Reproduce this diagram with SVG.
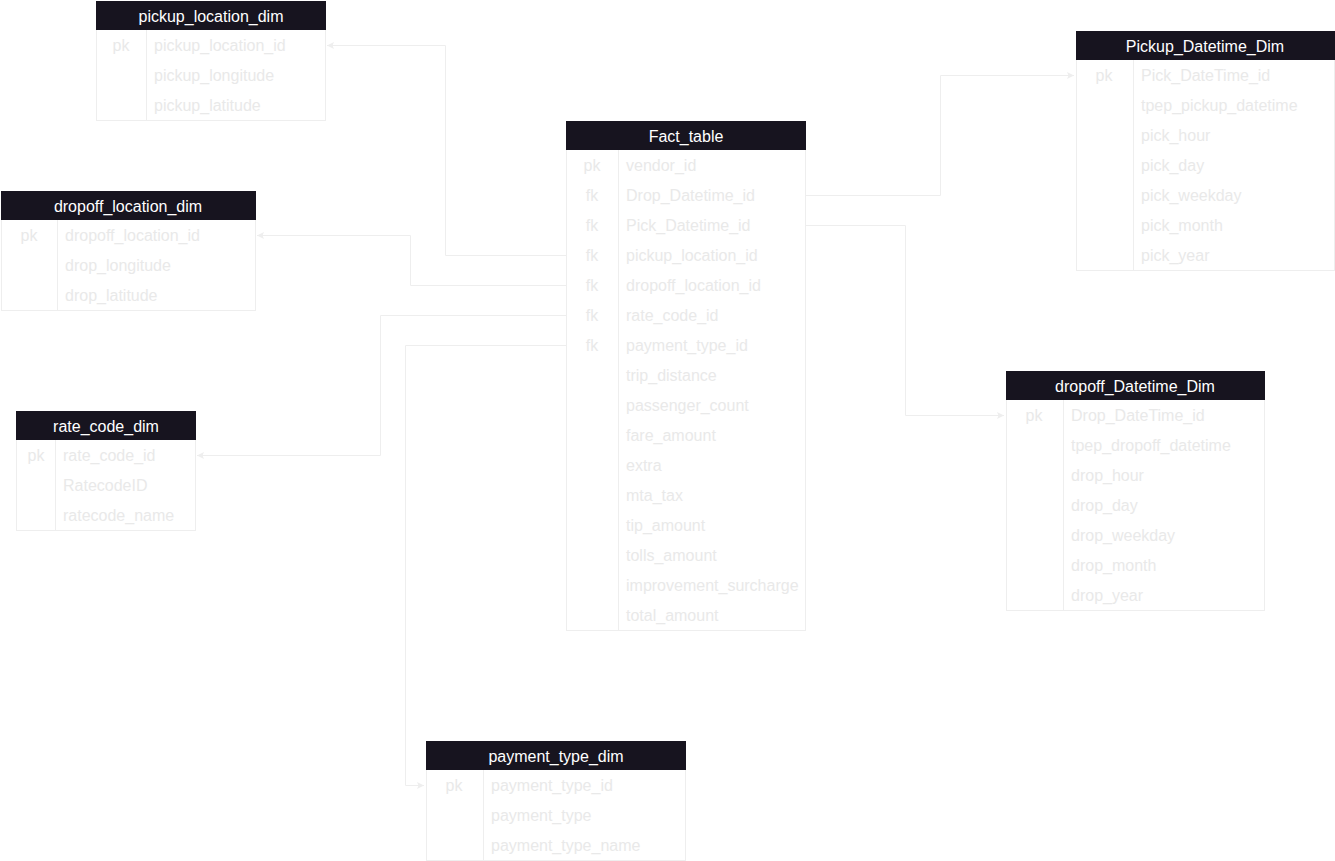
<svg xmlns="http://www.w3.org/2000/svg" width="1335" height="861" viewBox="0 0 1335 861">
<defs>
<style>
.box{fill:#ffffff;stroke:#eeeeee;stroke-width:1}
.hdr{fill:#17141f}
.ht{fill:#ffffff;font-family:"Liberation Sans",Arial,sans-serif;font-size:16px;text-anchor:middle}
.k{fill:#e9e9e9;font-family:"Liberation Sans",Arial,sans-serif;font-size:16px;text-anchor:middle}
.f{fill:#e9e9e9;font-family:"Liberation Sans",Arial,sans-serif;font-size:16px}
.div{stroke:#eeeeee;stroke-width:1}
.edge{fill:none;stroke:#eeeeee;stroke-width:1}
</style>
<marker id="arr" markerWidth="8" markerHeight="8" refX="7" refY="4" orient="auto" markerUnits="userSpaceOnUse">
<path d="M0,0.5 L7,4 L0,7.5 L1.5,4 Z" fill="#eeeeee"/>
</marker>
</defs>
<rect width="1335" height="861" fill="#ffffff"/>
<g id="connectors">
<path class="edge" d="M566,255.5 H445.5 V45.5 H327" marker-end="url(#arr)"/>
<path class="edge" d="M566,285.5 H410.5 V235.5 H257" marker-end="url(#arr)"/>
<path class="edge" d="M566,315.5 H380.5 V455.5 H197" marker-end="url(#arr)"/>
<path class="edge" d="M566,345.5 H405.5 V785.5 H424" marker-end="url(#arr)"/>
<path class="edge" d="M805,195.5 H940.5 V75.5 H1074" marker-end="url(#arr)"/>
<path class="edge" d="M805,225.5 H905.5 V415.5 H1004" marker-end="url(#arr)"/>
</g>
<g id="pickup_location_dim">
<rect class="box" x="96.5" y="1.5" width="229" height="119"/>
<rect class="hdr" x="96" y="1" width="230" height="29"/>
<text class="ht" x="211" y="22">pickup_location_dim</text>
<line class="div" x1="146.5" y1="30" x2="146.5" y2="120"/>
<text class="k" x="121" y="51">pk</text>
<text class="f" x="154" y="51">pickup_location_id</text>
<text class="f" x="154" y="81">pickup_longitude</text>
<text class="f" x="154" y="111">pickup_latitude</text>
</g>
<g id="dropoff_location_dim">
<rect class="box" x="1.5" y="191.5" width="254" height="119"/>
<rect class="hdr" x="1" y="191" width="255" height="29"/>
<text class="ht" x="128" y="212">dropoff_location_dim</text>
<line class="div" x1="57.5" y1="220" x2="57.5" y2="310"/>
<text class="k" x="29" y="241">pk</text>
<text class="f" x="65" y="241">dropoff_location_id</text>
<text class="f" x="65" y="271">drop_longitude</text>
<text class="f" x="65" y="301">drop_latitude</text>
</g>
<g id="rate_code_dim">
<rect class="box" x="16.5" y="411.5" width="179" height="119"/>
<rect class="hdr" x="16" y="411" width="180" height="29"/>
<text class="ht" x="106" y="432">rate_code_dim</text>
<line class="div" x1="55.5" y1="440" x2="55.5" y2="530"/>
<text class="k" x="36" y="461">pk</text>
<text class="f" x="63" y="461">rate_code_id</text>
<text class="f" x="63" y="491">RatecodeID</text>
<text class="f" x="63" y="521">ratecode_name</text>
</g>
<g id="Fact_table">
<rect class="box" x="566.5" y="121.5" width="239" height="509"/>
<rect class="hdr" x="566" y="121" width="240" height="29"/>
<text class="ht" x="686" y="142">Fact_table</text>
<line class="div" x1="618.5" y1="150" x2="618.5" y2="630"/>
<text class="k" x="592" y="171">pk</text>
<text class="k" x="592" y="201">fk</text>
<text class="k" x="592" y="231">fk</text>
<text class="k" x="592" y="261">fk</text>
<text class="k" x="592" y="291">fk</text>
<text class="k" x="592" y="321">fk</text>
<text class="k" x="592" y="351">fk</text>
<text class="f" x="626" y="171">vendor_id</text>
<text class="f" x="626" y="201">Drop_Datetime_id</text>
<text class="f" x="626" y="231">Pick_Datetime_id</text>
<text class="f" x="626" y="261">pickup_location_id</text>
<text class="f" x="626" y="291">dropoff_location_id</text>
<text class="f" x="626" y="321">rate_code_id</text>
<text class="f" x="626" y="351">payment_type_id</text>
<text class="f" x="626" y="381">trip_distance</text>
<text class="f" x="626" y="411">passenger_count</text>
<text class="f" x="626" y="441">fare_amount</text>
<text class="f" x="626" y="471">extra</text>
<text class="f" x="626" y="501">mta_tax</text>
<text class="f" x="626" y="531">tip_amount</text>
<text class="f" x="626" y="561">tolls_amount</text>
<text class="f" x="626" y="591">improvement_surcharge</text>
<text class="f" x="626" y="621">total_amount</text>
</g>
<g id="Pickup_Datetime_Dim">
<rect class="box" x="1076.5" y="31.5" width="258" height="239"/>
<rect class="hdr" x="1076" y="31" width="259" height="29"/>
<text class="ht" x="1205" y="52">Pickup_Datetime_Dim</text>
<line class="div" x1="1133.5" y1="60" x2="1133.5" y2="270"/>
<text class="k" x="1104" y="81">pk</text>
<text class="f" x="1141" y="81">Pick_DateTime_id</text>
<text class="f" x="1141" y="111">tpep_pickup_datetime</text>
<text class="f" x="1141" y="141">pick_hour</text>
<text class="f" x="1141" y="171">pick_day</text>
<text class="f" x="1141" y="201">pick_weekday</text>
<text class="f" x="1141" y="231">pick_month</text>
<text class="f" x="1141" y="261">pick_year</text>
</g>
<g id="dropoff_Datetime_Dim">
<rect class="box" x="1006.5" y="371.5" width="258" height="239"/>
<rect class="hdr" x="1006" y="371" width="259" height="29"/>
<text class="ht" x="1135" y="392">dropoff_Datetime_Dim</text>
<line class="div" x1="1063.5" y1="400" x2="1063.5" y2="610"/>
<text class="k" x="1034" y="421">pk</text>
<text class="f" x="1071" y="421">Drop_DateTime_id</text>
<text class="f" x="1071" y="451">tpep_dropoff_datetime</text>
<text class="f" x="1071" y="481">drop_hour</text>
<text class="f" x="1071" y="511">drop_day</text>
<text class="f" x="1071" y="541">drop_weekday</text>
<text class="f" x="1071" y="571">drop_month</text>
<text class="f" x="1071" y="601">drop_year</text>
</g>
<g id="payment_type_dim">
<rect class="box" x="426.5" y="741.5" width="259" height="119"/>
<rect class="hdr" x="426" y="741" width="260" height="29"/>
<text class="ht" x="556" y="762">payment_type_dim</text>
<line class="div" x1="483.5" y1="770" x2="483.5" y2="860"/>
<text class="k" x="454" y="791">pk</text>
<text class="f" x="491" y="791">payment_type_id</text>
<text class="f" x="491" y="821">payment_type</text>
<text class="f" x="491" y="851">payment_type_name</text>
</g>
</svg>
